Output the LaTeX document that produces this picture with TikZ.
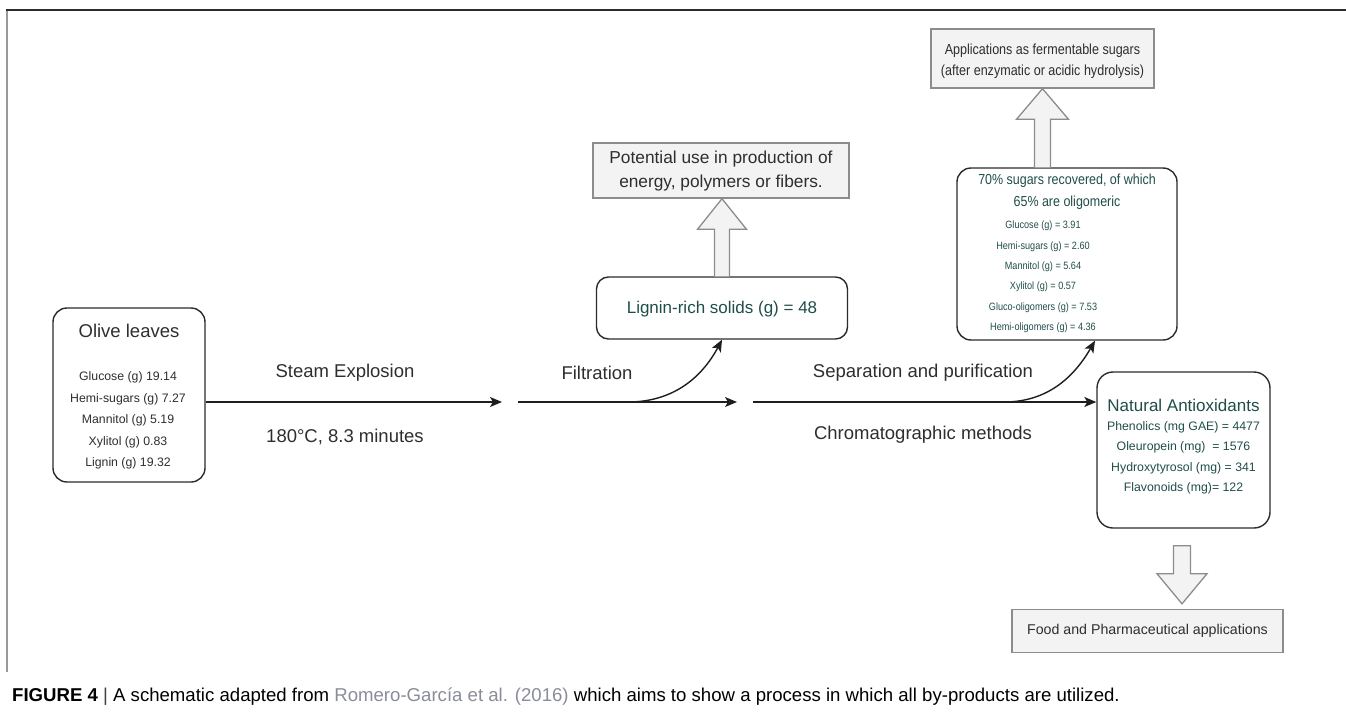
\documentclass[tikz,border=0pt]{standalone}
\usepackage{fontspec}
\setmainfont{Liberation Sans}
\newfontfamily\condf[FakeStretch=0.86]{Liberation Sans}
\usetikzlibrary{arrows.meta,calc}
\definecolor{boxline}{HTML}{2B2B2B}
\definecolor{gline}{HTML}{8C8C8C}
\definecolor{gfill}{HTML}{F3F3F3}
\definecolor{linec}{HTML}{1E1E1E}
\definecolor{txtdark}{HTML}{2E2E2E}
\definecolor{txtteal}{HTML}{1F4D48}
\definecolor{capgray}{HTML}{8A8C98}
\begin{document}
\begin{tikzpicture}[x=1pt,y=-1pt,
  rbox/.style={draw=boxline, line width=1.4pt, rounded corners=14pt, inner sep=0pt},
  gbox/.style={draw=gline, fill=gfill, line width=1.4pt, inner sep=0pt},
  lbl/.style={inner sep=0pt, text=txtdark, font=\fontsize{18.5}{20}\selectfont},
  small/.style={inner sep=0pt, text=txtdark, font=\fontsize{12.3}{14}\selectfont},
  tsmall/.style={inner sep=0pt, text=txtteal, font=\fontsize{12.3}{14}\selectfont},
  tcond/.style={inner sep=0pt, text=txtteal, font=\condf\fontsize{10.6}{12}\selectfont},
  flow/.style={draw=linec, line width=1.4pt, -{Stealth[length=12pt,width=10pt,inset=3pt]}},
  hollow/.style={draw=gline, fill=gfill, line width=1.3pt, line join=miter}]
\useasboundingbox (0,0) rectangle (1346,725);
% frame
\draw[color=gray!80, line width=2pt] (7,10) -- (7,672);
\draw[color=boxline, line width=1.5pt] (6,10) -- (1346,10);

% olive leaves box
\node[rbox, minimum width=152pt, minimum height=174pt] (olive) at (129,395) {};
\node[lbl] (olT) at (129,331) {Olive leaves};
\node[small] (ol1) at (128,377) {Glucose (g) 19.14};
\node[small] (ol2) at (128,399) {Hemi-sugars (g) 7.27};
\node[small] (ol3) at (128,420) {Mannitol (g) 5.19};
\node[small] (ol4) at (128,442) {Xylitol (g) 0.83};
\node[small] (ol5) at (128,463) {Lignin (g) 19.32};

% labels on process line
\node[lbl] (se) at (345,373) {Steam Explosion};
\node[lbl] (tc) at (345,437) {180°C, 8.3 minutes};
\node[lbl] (fi) at (597,373) {Filtration};
\node[lbl] (sp) at (923,373) {Separation and purification};
\node[lbl] (cm) at (923,435) {Chromatographic methods};

% lignin box and potential box
\node[rbox, minimum width=251pt, minimum height=62pt, rounded corners=12pt] (lig) at (722,308) {};
\node[inner sep=0pt, text=txtteal, font=\fontsize{17}{19}\selectfont] (ligT) at (722,309) {Lignin-rich solids (g) = 48};
\node[gbox, minimum width=256pt, minimum height=55pt] (pot) at (721,170.5) {};
\node[inner sep=0pt, text=txtdark, font=\fontsize{17.3}{24}\selectfont, align=center] (potT) at (721,171) {Potential use in production of\\energy, polymers or fibers.};

% applications box
\node[gbox, minimum width=223pt, minimum height=59pt] (apps) at (1042.5,58.5) {};
\node[inner sep=0pt, text=txtdark, font=\condf\fontsize{14.6}{21}\selectfont, align=center] (appsT) at (1042.5,61) {Applications as fermentable sugars\\(after enzymatic or acidic hydrolysis)};

% 70% box
\node[rbox, minimum width=220pt, minimum height=172pt] (s70) at (1067,254) {};
\node[inner sep=0pt, text=txtteal, font=\condf\fontsize{14.5}{22}\selectfont, align=center] (s70T) at (1067,192) {70\% sugars recovered, of which\\65\% are oligomeric};
\node[tcond] (s1) at (1043,226) {Glucose (g) = 3.91};
\node[tcond] (s2) at (1043,246.4) {Hemi-sugars (g) = 2.60};
\node[tcond] (s3) at (1043,266.8) {Mannitol (g) = 5.64};
\node[tcond] (s4) at (1043,287.2) {Xylitol (g) = 0.57};
\node[tcond] (s5) at (1043,307.6) {Gluco-oligomers (g) = 7.53};
\node[tcond] (s6) at (1043,328) {Hemi-oligomers (g) = 4.36};

% natural antioxidants box
\node[rbox, minimum width=173pt, minimum height=156pt, rounded corners=16pt] (na) at (1183.5,450) {};
\node[inner sep=0pt, text=txtteal, font=\fontsize{17}{19}\selectfont] (naT) at (1183.5,405) {Natural Antioxidants};
\node[tsmall] (n1) at (1183.5,427) {Phenolics (mg GAE) = 4477};
\node[tsmall] (n2) at (1183.5,447) {Oleuropein (mg)\ \ = 1576};
\node[tsmall] (n3) at (1183.5,468) {Hydroxytyrosol (mg) = 341};
\node[tsmall] (n4) at (1183.5,488) {Flavonoids (mg)= 122};

% food box
\node[gbox, minimum width=271pt, minimum height=43pt] (food) at (1147.5,631) {};
\node[inner sep=0pt, text=txtdark, font=\fontsize{14.2}{16}\selectfont] (foodT) at (1147.5,631) {Food and Pharmaceutical applications};

% process connectors
\coordinate (e1) at (502,402);
\coordinate (b2) at (518,402);
\coordinate (e2) at (737,402);
\coordinate (b3) at (753,402);
\coordinate (c1) at (628,402);
\coordinate (c2) at (1004,402);
\draw[flow] (olive.east |- e1) -- (e1);
\draw[flow] (b2) -- (e2);
\draw[flow] (b3) -- (na.west |- b3);
\draw[flow] (c1) to[out=0,in=-118] (lig.south);
\draw[flow] (c2) to[out=0,in=-120] ($(s70.south)+(28,0)$);

% hollow arrows
\coordinate (h1) at (lig.north);
\draw[hollow] ($(h1)+(-7.5,0)$) -- ($(h1)+(-7.5,-47)$) -- ($(h1)+(-24.5,-47)$) -- (h1 |- pot.south) -- ($(h1)+(24.5,-47)$) -- ($(h1)+(7.5,-47)$) -- ($(h1)+(7.5,0)$);
\coordinate (h2) at (apps.south |- s70.north);
\draw[hollow] ($(h2)+(-8,0)$) -- ($(h2)+(-8,-48)$) -- ($(h2)+(-26,-48)$) -- (apps.south) -- ($(h2)+(26,-48)$) -- ($(h2)+(8,-48)$) -- ($(h2)+(8,0)$);
\coordinate (h3) at ($(na.south)+(-1.5,17)$);
\coordinate (h3t) at ($(food.north -| h3)+(0,-5)$);
\draw[hollow] ($(h3)+(-8.5,0)$) -- ($(h3)+(8.5,0)$) -- ($(h3)+(8.5,28)$) -- ($(h3)+(25,28)$) -- (h3t) -- ($(h3)+(-25,28)$) -- ($(h3)+(-8.5,28)$) -- cycle;

% caption
\node[anchor=west, inner sep=0pt, text=black, font=\fontsize{18.6}{21}\selectfont] (cap) at (12,697) {\textbf{FIGURE 4} {\color{darkgray}|} A schematic adapted from {\color{capgray}Romero-García et al. (2016)} which aims to show a process in which all by-products are utilized.};
\end{tikzpicture}
\end{document}
